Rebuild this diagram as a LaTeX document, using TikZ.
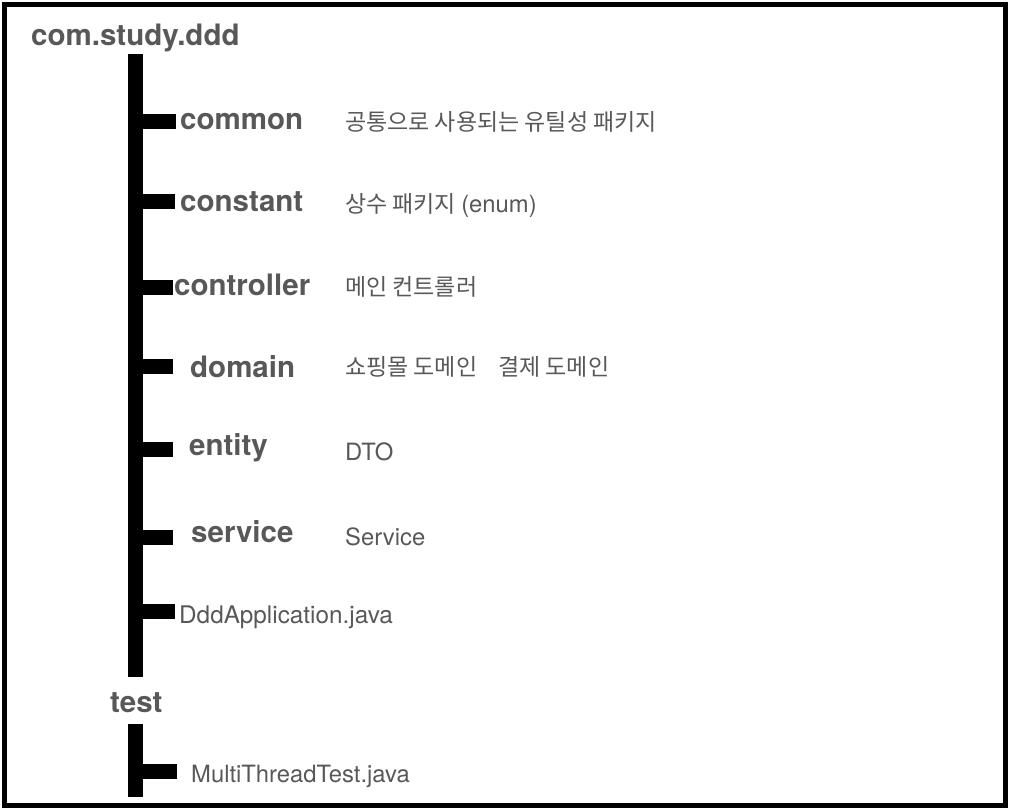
\documentclass[tikz,border=0pt]{standalone}
\usepackage{fontspec}
\setmainfont{TeX Gyre Heros}
\newfontfamily\krfont{Noto Sans CJK KR}
\definecolor{txtgray}{RGB}{88,88,88}
\begin{document}
\begin{tikzpicture}[x=1pt,y=-1pt,
  pkg/.style={anchor=base west,inner sep=0pt,text=txtgray,font=\fontsize{29.5}{32}\selectfont\bfseries},
  file/.style={anchor=base west,inner sep=0pt,text=txtgray,font=\fontsize{23.8}{26}\selectfont},
  desc/.style={anchor=base west,inner sep=0pt,text=txtgray,font=\fontsize{23}{26}\selectfont\krfont},
  trunk/.style={line width=15pt,black},
  branch/.style={line width=15pt,black}]
\useasboundingbox (0,0) rectangle (1011,811);
\draw[line width=5pt] (4.5,4.5) rectangle (1005.5,805.5);

\node[pkg] (root) at (31,45) {com.study.ddd};
\coordinate (t1top) at (135.5,54);
\coordinate (t1bot) at (135.5,677);
\draw[trunk] (t1top) -- (t1bot);

\node[pkg] (common) at (180,129) {common};
\node[pkg] (constant) at (180,211.5) {constant};
\node[pkg] (controller) at (174,295) {controller};
\node[pkg] (domain) at (190,377) {domain};
\node[pkg] (entity) at (189,455) {entity};
\node[pkg] (service) at (191,542) {service};
\node[file,font=\fontsize{24.3}{26}\selectfont] (ddd) at (179,623) {DddApplication.java};

\coordinate (b1) at (128,121.5); \coordinate (e1) at (176,121.5);
\coordinate (b2) at (128,201); \coordinate (e2) at (175,201);
\coordinate (b3) at (128,287.5); \coordinate (e3) at (173,287.5);
\coordinate (b4) at (128,366.5); \coordinate (e4) at (173,366.5);
\coordinate (b5) at (128,449.5); \coordinate (e5) at (173,449.5);
\coordinate (b6) at (128,537); \coordinate (e6) at (173,537);
\coordinate (b7) at (128,611); \coordinate (e7) at (175,611);
\foreach \i in {1,...,7} {\draw[branch] (b\i) -- (e\i);}

\node[desc] (dcommon) at (345,130) {공통으로 사용되는 유틸성 패키지};
\node[desc] (dconstant) at (345,212) {상수 패키지 {\fontspec{TeX Gyre Heros}\fontsize{23.8}{26}\selectfont (enum)}};
\node[desc] (dcontroller) at (345,295) {메인 컨트롤러};
\node[desc] (ddomain1) at (345,375) {쇼핑몰 도메인};
\node[desc] (ddomain2) at (498,375) {결제 도메인};
\node[file] (dentity) at (345,460) {DTO};
\node[file] (dservice) at (345,545) {Service};

\node[pkg] (test) at (110,712) {test};
\coordinate (t2top) at (135.5,724);
\coordinate (t2bot) at (135.5,797);
\draw[trunk] (t2top) -- (t2bot);
\coordinate (b8) at (128,771); \coordinate (e8) at (177,771);
\draw[branch] (b8) -- (e8);
\node[file] (mtt) at (191,782) {MultiThreadTest.java};
\end{tikzpicture}
\end{document}
